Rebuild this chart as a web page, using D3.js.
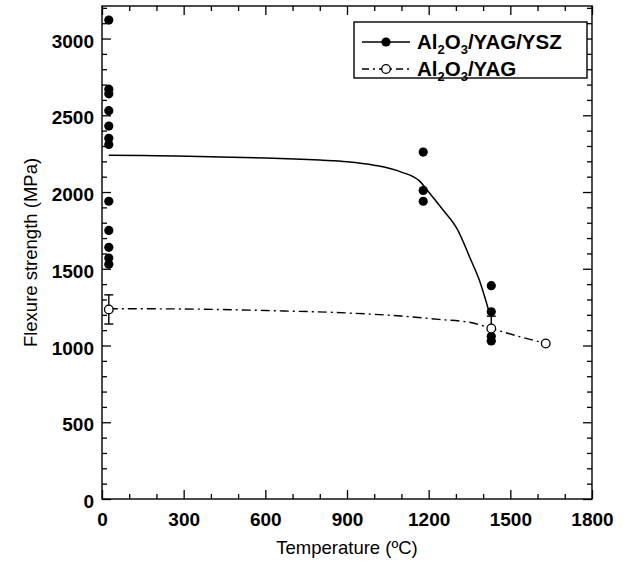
<!DOCTYPE html>
<html>
<head>
<meta charset="utf-8">
<script src="https://cdn.jsdelivr.net/npm/d3@7"></script>
<style>
  html, body { margin: 0; padding: 0; background: #fff; }
  svg { display: block; }
  text { font-family: "Liberation Sans", Arial, Helvetica, sans-serif; fill: #000; }
</style>
</head>
<body>
<svg id="chart" width="626" height="566"></svg>
<script>
// ---------- data ----------
const xTickValues = [0, 300, 600, 900, 1200, 1500, 1800];
const yTickValues = [0, 500, 1000, 1500, 2000, 2500, 3000];
const xMinorTicks = d3.range(0, 1801, 100);
const yMinorTicks = d3.range(0, 3201, 100);

// Al2O3/YAG/YSZ measured points
const yszTemp = [25, 25, 25, 25, 25, 25, 25, 25, 25, 25, 25, 25, 1180, 1180, 1180, 1430, 1430, 1430, 1430];
const yszStrength = [3120, 2670, 2640, 2530, 2430, 2350, 2310, 1940, 1750, 1640, 1570, 1530, 2260, 2010, 1940, 1390, 1220, 1060, 1030];
// Al2O3/YAG/YSZ fit curve
const yszFitTemp = [25, 200, 400, 600, 800, 900, 1000, 1100, 1165, 1200, 1250, 1305, 1354, 1385, 1425];
const yszFitStrength = [2240, 2236, 2230, 2222, 2208, 2198, 2175, 2130, 2074, 2000, 1889, 1758, 1562, 1431, 1200];

// Al2O3/YAG measured points (mean, error)
const yagTemp = [25, 1430, 1630];
const yagStrength = [1235, 1111, 1013];
const yagError = [95, 80, 0];
// Al2O3/YAG trend line
const yagFitTemp = [25, 300, 600, 900, 1100, 1238, 1359, 1430, 1530, 1630];
const yagFitStrength = [1240, 1238, 1228, 1212, 1192, 1170, 1148, 1111, 1060, 1013];

const legendLabels = [["Al", "2", "O", "3", "/YAG/YSZ"], ["Al", "2", "O", "3", "/YAG"]];

// ---------- layout ----------
const L = 102, R = 592, T = 6, B = 499;
const svg = d3.select("#chart");
const x = d3.scaleLinear().domain([0, 1800]).range([L, R]);
const y = d3.scaleLinear().domain([0, 3212]).range([B, T]);

// frame
svg.append("rect").attr("x", L).attr("y", T).attr("width", R - L).attr("height", B - T)
  .attr("fill", "none").attr("stroke", "#000").attr("stroke-width", 1.4);

function styleAxis(g) {
  g.select(".domain").remove();
  g.selectAll(".tick line").attr("stroke", "#000").attr("stroke-width", 1.3);
}
// major ticks with labels
svg.append("g").attr("transform", `translate(0,${B})`)
  .call(d3.axisBottom(x).tickValues(xTickValues).tickSize(-9).tickPadding(14).tickFormat(d3.format("d")))
  .call(styleAxis)
  .call(g => g.selectAll("text").attr("font-size", 19).attr("font-weight", "bold").attr("fill", "#000"));
svg.append("g").attr("transform", `translate(${L},0)`)
  .call(d3.axisLeft(y).tickValues(yTickValues).tickSize(-9).tickPadding(8).tickFormat(d3.format("d")))
  .call(styleAxis)
  .call(g => g.selectAll("text").attr("font-size", 19).attr("font-weight", "bold").attr("dy", "0.45em").attr("fill", "#000"));
// top/right majors
svg.append("g").attr("transform", `translate(0,${T})`)
  .call(d3.axisTop(x).tickValues(xTickValues).tickSize(-9).tickFormat(""))
  .call(styleAxis);
svg.append("g").attr("transform", `translate(${R},0)`)
  .call(d3.axisRight(y).tickValues(yTickValues).tickSize(-9).tickFormat(""))
  .call(styleAxis);
// minor ticks on all sides
const xm = xMinorTicks.filter(v => v % 300 !== 0);
const ym = yMinorTicks.filter(v => v % 500 !== 0);
svg.append("g").attr("transform", `translate(0,${B})`).call(d3.axisBottom(x).tickValues(xm).tickSize(-5).tickFormat("")).call(styleAxis);
svg.append("g").attr("transform", `translate(0,${T})`).call(d3.axisTop(x).tickValues(xm).tickSize(-5).tickFormat("")).call(styleAxis);
svg.append("g").attr("transform", `translate(${L},0)`).call(d3.axisLeft(y).tickValues(ym).tickSize(-5).tickFormat("")).call(styleAxis);
svg.append("g").attr("transform", `translate(${R},0)`).call(d3.axisRight(y).tickValues(ym).tickSize(-5).tickFormat("")).call(styleAxis);

// axis titles
svg.append("text").attr("x", (L + R) / 2).attr("y", 554).attr("text-anchor", "middle")
  .attr("font-size", 18.5).attr("fill", "#000").text("Temperature (ºC)");
svg.append("text").attr("transform", `translate(37,${(T + B) / 2}) rotate(-90)`).attr("text-anchor", "middle")
  .attr("font-size", 18.5).attr("fill", "#000").text("Flexure strength (MPa)");

// lines
const line = d3.line().x(d => x(d[0])).y(d => y(d[1])).curve(d3.curveMonotoneX);
svg.append("path").datum(d3.zip(yszFitTemp, yszFitStrength)).attr("d", line)
  .attr("fill", "none").attr("stroke", "#000").attr("stroke-width", 1.5);
svg.append("path").datum(d3.zip(yagFitTemp, yagFitStrength)).attr("d", line)
  .attr("fill", "none").attr("stroke", "#000").attr("stroke-width", 1.4).attr("stroke-dasharray", "9,4,2,4");

// error bars for YAG
const yagData = d3.zip(yagTemp, yagStrength, yagError);
const eb = svg.append("g").attr("stroke", "#000").attr("stroke-width", 1.4);
yagData.filter(d => d[2] > 0).forEach(d => {
  eb.append("line").attr("x1", x(d[0])).attr("x2", x(d[0])).attr("y1", y(d[1] - d[2])).attr("y2", y(d[1] + d[2]));
  [d[1] - d[2], d[1] + d[2]].forEach(v => {
    eb.append("line").attr("x1", x(d[0]) - 4.5).attr("x2", x(d[0]) + 4.5).attr("y1", y(v)).attr("y2", y(v));
  });
});

// points
svg.append("g").selectAll("circle").data(d3.zip(yszTemp, yszStrength)).join("circle")
  .attr("cx", d => x(d[0])).attr("cy", d => y(d[1])).attr("r", 4.6).attr("fill", "#000");
svg.append("g").selectAll("circle").data(yagData).join("circle")
  .attr("cx", d => x(d[0])).attr("cy", d => y(d[1])).attr("r", 4.3)
  .attr("fill", "#fff").attr("stroke", "#000").attr("stroke-width", 1.3);

// legend
const lg = svg.append("g");
lg.append("rect").attr("x", 354).attr("y", 22).attr("width", 233).attr("height", 56)
  .attr("fill", "#fff").attr("stroke", "#000").attr("stroke-width", 1.4);
const rows = [42, 69];
lg.append("line").attr("x1", 362).attr("x2", 410).attr("y1", rows[0]).attr("y2", rows[0]).attr("stroke", "#000").attr("stroke-width", 1.5);
lg.append("circle").attr("cx", 386).attr("cy", rows[0]).attr("r", 4.6).attr("fill", "#000");
lg.append("line").attr("x1", 362).attr("x2", 410).attr("y1", rows[1]).attr("y2", rows[1]).attr("stroke", "#000").attr("stroke-width", 1.4).attr("stroke-dasharray", "7,4,2,4");
lg.append("circle").attr("cx", 386).attr("cy", rows[1]).attr("r", 4.3).attr("fill", "#fff").attr("stroke", "#000").attr("stroke-width", 1.3);
legendLabels.forEach((parts, i) => {
  const t = lg.append("text").attr("x", 417).attr("y", rows[i] + 7).attr("font-size", 20.5).attr("font-weight", "bold").attr("fill", "#000");
  parts.forEach((p, j) => {
    const ts = t.append("tspan").text(p);
    if (j % 2 === 1 && j < 4) ts.attr("font-size", 13).attr("dy", 5);
    else if (j > 0) ts.attr("dy", -5);
  });
});
</script>
</body>
</html>
